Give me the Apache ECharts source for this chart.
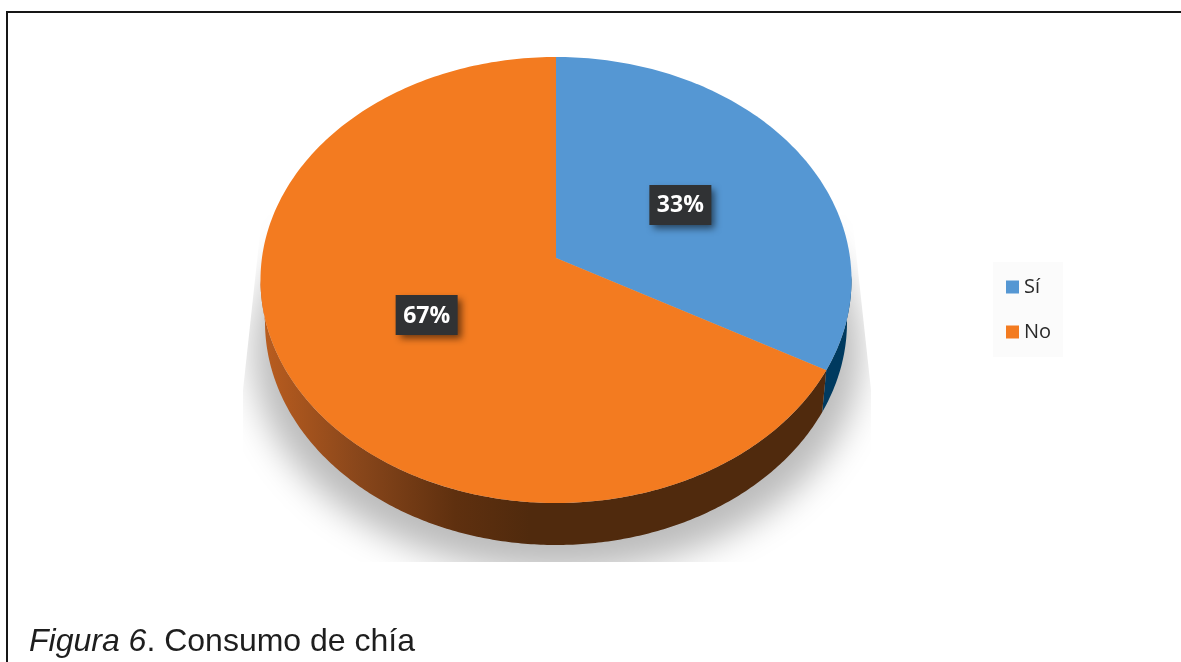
<!DOCTYPE html>
<html>
<head>
<meta charset="utf-8">
<title>Consumo de chía</title>
<script src="https://cdn.jsdelivr.net/npm/echarts@6/dist/echarts.min.js"></script>
<style>
  html, body { margin: 0; padding: 0; background: #fff; }
  #chart { width: 1181px; height: 662px; }
</style>
</head>
<body>
<div id="chart"></div>
<script>
// Answers to the chia consumption question
const categories = ['Sí', 'No'];
const shares = [33, 67];
const topColors = ['#5597d3', '#f37b20'];

// Tilted disc: upper face, lower rim and the point where the slices meet
const disc = { cx: 556, cy: 280, rx: 295.5, ry: 223, lowerCy: 322, lowerRx: 291, apexX: 556, apexY: 258 };
const labelNudgeX = [1, -6];
const labelNudgeY = [2, 2];
const total = shares.reduce((a, b) => a + b, 0);
const startOf = i => shares.slice(0, i).reduce((a, b) => a + b, 0) / total;

// Where a ray leaving the apex at a given share of the turn meets the upper ellipse
function rimPoint(frac) {
  const th = frac * Math.PI * 2;
  const dx = Math.sin(th) * disc.rx;
  const dy = -Math.cos(th) * disc.ry;
  const oy = disc.apexY - disc.cy;
  const a = (dx / disc.rx) ** 2 + (dy / disc.ry) ** 2;
  const b = 2 * dy * oy / (disc.ry * disc.ry);
  const c = (oy / disc.ry) ** 2 - 1;
  const t = (-b + Math.sqrt(b * b - 4 * a * c)) / (2 * a);
  return [disc.apexX + dx * t, disc.apexY + dy * t];
}

function rimAngle(frac) {
  const p = rimPoint(frac);
  return Math.atan2((p[1] - disc.cy) / disc.ry, (p[0] - disc.cx) / disc.rx);
}

function faceShape(from, to) {
  const pts = [[disc.apexX, disc.apexY]];
  const n = Math.ceil((to - from) * 360);
  for (let k = 0; k <= n; k++) pts.push(rimPoint(from + (to - from) * k / n));
  return pts;
}

// Band between the upper and lower rims across a range of ellipse angles
function wallShape(a0, a1) {
  const upper = [], lower = [];
  const n = Math.max(2, Math.ceil(Math.abs(a1 - a0) * 90));
  for (let k = 0; k <= n; k++) {
    const a = a0 + (a1 - a0) * k / n;
    upper.push([disc.cx + disc.rx * Math.cos(a), disc.cy + disc.ry * Math.sin(a)]);
    lower.push([disc.cx + disc.lowerRx * Math.cos(a), disc.lowerCy + disc.ry * Math.sin(a)]);
  }
  return upper.concat(lower.reverse());
}

const wallFills = [
  '#003a5f',
  { type: 'linear', x: 262, y: 0, x2: 530, y2: 0, global: true, colorStops: [
    { offset: 0, color: '#ba5d1f' },
    { offset: 0.35, color: '#8a471b' },
    { offset: 0.72, color: '#5f300f' },
    { offset: 1, color: '#502a0d' }
  ] }
];

function sliceRenderer(i) {
  return function (params, api) {
    const value = api.value(0);
    const from = startOf(i);
    const to = from + value / total;
    const split = rimAngle(from === 0 ? to : from);
    const wall = i === 0 ? wallShape(-0.02, split) : wallShape(split, Math.PI);

    const mid = ((from + to) / 2) * Math.PI * 2;
    const lx = disc.apexX + Math.sin(mid) * disc.rx * 0.485 + labelNudgeX[i];
    const ly = disc.apexY - Math.cos(mid) * disc.ry * 0.485 + labelNudgeY[i];

    return {
      type: 'group',
      children: [
        { type: 'polygon', shape: { points: wall }, style: { fill: wallFills[i] } },
        { type: 'polygon', shape: { points: faceShape(from, to) }, style: { fill: topColors[i] } },
        {
          type: 'rect',
          shape: { x: lx - 31, y: ly - 20, width: 62, height: 40 },
          style: { fill: '#303234', shadowBlur: 7, shadowOffsetX: 4, shadowOffsetY: 4, shadowColor: 'rgba(0,0,0,0.55)' }
        },
        {
          type: 'text',
          style: {
            x: lx, y: ly + 1, text: value + '%', fill: '#ffffff',
            font: 'bold 23px "Open Sans", sans-serif', align: 'center', verticalAlign: 'middle'
          }
        }
      ]
    };
  };
}

// Cast shadow behind the disc. The ellipse itself sits off the canvas so only
// its blurred shadow lands on the page, cut off in a flaring outline.
const shadowShift = 3000;
function shadowRenderer() {
  return {
    type: 'group',
    clipPath: {
      type: 'polygon',
      shape: { points: [[262, 215], [243, 390], [243, 562], [871, 562], [871, 390], [852, 215]] }
    },
    children: [{
      type: 'ellipse',
      shape: { cx: 557 - shadowShift, cy: 352, rx: 304, ry: 220 },
      style: { fill: '#bcbcbc', shadowBlur: 34, shadowOffsetX: shadowShift, shadowColor: '#bcbcbc' }
    }]
  };
}

const series = [{
  type: 'custom', name: 'sombra', coordinateSystem: 'none', silent: true, z: 1,
  data: [[0]], renderItem: shadowRenderer
}].concat(categories.map((name, i) => ({
  type: 'custom', name, coordinateSystem: 'none', silent: true, z: 2,
  itemStyle: { color: topColors[i] },
  data: [[shares[i]]],
  renderItem: sliceRenderer(i)
})));

const chart = echarts.init(document.getElementById('chart'), null, { renderer: 'canvas' });
chart.setOption({
  animation: false,
  backgroundColor: '#ffffff',
  title: {
    left: 29, top: 626, padding: 0,
    text: '{i|Figura 6}{n|. Consumo de chía}',
    textStyle: {
      fontWeight: 'normal',
      rich: {
        i: { fontFamily: '"Liberation Sans", Arial, sans-serif', fontSize: 32, fontStyle: 'italic', fontWeight: 'normal', color: '#1e1e1e' },
        n: { fontFamily: '"Liberation Sans", Arial, sans-serif', fontSize: 32, fontWeight: 'normal', color: '#1e1e1e' }
      }
    }
  },
  legend: {
    data: categories,
    orient: 'vertical',
    left: 993, top: 262,
    padding: [15, 12, 15, 13],
    backgroundColor: '#fbfbfb',
    icon: 'rect',
    itemWidth: 13, itemHeight: 13, itemGap: 25,
    selectedMode: false,
    textStyle: { fontFamily: '"Open Sans", sans-serif', fontSize: 20, color: '#2a2a2a' }
  },
  graphic: [{
    type: 'polyline',
    shape: { points: [[7, 662], [7, 12], [1181, 12]] },
    style: { fill: null, stroke: '#161616', lineWidth: 2 }
  }],
  series
});
</script>
</body>
</html>
